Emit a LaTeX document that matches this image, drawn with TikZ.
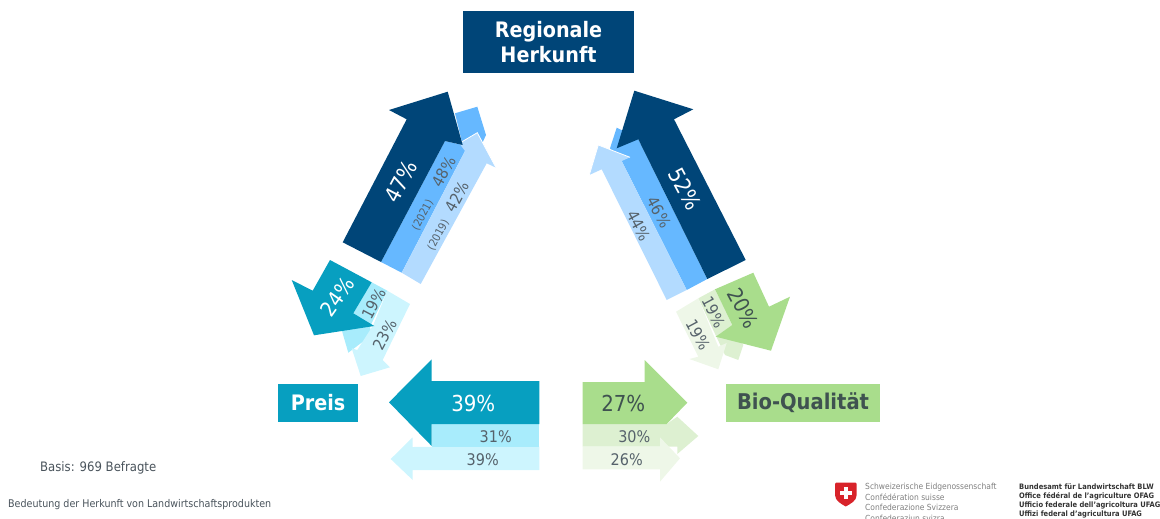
\documentclass[tikz,border=0pt]{standalone}
\usepackage{fontspec}
\setmainfont{DejaVu Sans Condensed}
\definecolor{navy}{HTML}{004578}
\definecolor{navymid}{HTML}{66B8FF}
\definecolor{navylt}{HTML}{B3DBFF}
\definecolor{teal1}{HTML}{079FC0}
\definecolor{tealmid}{HTML}{A8ECFC}
\definecolor{teallt}{HTML}{CDF5FE}
\definecolor{green1}{HTML}{A9DD8C}
\definecolor{greenmid}{HTML}{DDF0D1}
\definecolor{greenlt}{HTML}{EEF7E8}
\definecolor{txtgray}{HTML}{56626B}
\definecolor{txtdark}{HTML}{3F5250}
\definecolor{swiss}{HTML}{D8232A}
\tikzset{
  x=1pt,y=-1pt,
  headedge/.style={draw=white,line width=0.8pt},
  pct/.style={inner sep=0pt,font=\fontsize{#1}{#1}\selectfont,text=txtgray},
  pct/.default=16,
  pctw/.style={pct=#1,text=white},
  pctw/.default=22,
  small/.style={inner sep=0pt,font=\fontsize{11}{11}\selectfont,text=txtgray},
  titlebox/.style={inner sep=0pt,align=center,font=\fontsize{#1}{#1}\selectfont\bfseries},
  foot/.style={inner sep=0pt,anchor=west,text=txtgray!85!black},
  adminline/.style={inner sep=0pt,anchor=west,text=gray,font=\fontsize{8.4}{8.4}\selectfont},
  officeline/.style={inner sep=0pt,anchor=west,text=black!80,font=\fontsize{7.5}{7.5}\selectfont\bfseries},
}
\begin{document}
\begin{tikzpicture}
\useasboundingbox (0,0) rectangle (1160,519);
\clip (0,0) rectangle (1160,519);
% title boxes
\fill[navy] (463,11) rectangle (634,73);
\node[titlebox=21.3,text=white] (reg) at (548.5,42) {Regionale\\[3pt]Herkunft};
\fill[teal1] (278.3,384.3) rectangle (358,421.7);
\node[titlebox=21.3,text=white] (preis) at (318,402.5) {Preis};
\fill[green1] (726,384.3) rectangle (880,421.7);
\node[titlebox=21.7,text=txtdark] (bio) at (803,403) {Bio-Qualität};
% left upper arrows
\fill[navymid] (381,262)--(401.7,272.7)--(465,151)--(480,148)--(486,135)--(477.3,106.7)--(455,113.3)--(462.7,145)--(445,141)--cycle;
\fill[navylt] (401.7,272.7)--(420.7,284)--(486.7,163.3)--(496,167.7)--(477.3,132.7)--(459.3,143.3)--(465,151)--cycle;
\draw[headedge] (459.3,143.3)--(477.3,132.7)--(496,167.7);
\fill[navy] (342.7,242.3)--(381,262)--(445,141)--(462.7,145)--(447.7,91.7)--(389,110)--(406.7,119.3)--cycle;
\node[pctw=22,rotate=62] (a47) at (400.7,181.7) {47\%};
\node[pct=16,rotate=62] (a48) at (444,171.7) {48\%};
\node[small,rotate=62] (a21) at (422.7,215) {(2021)};
\node[pct=16,rotate=62] (a42) at (457.3,196.7) {42\%};
\node[small,rotate=62] (a19) at (438.3,235) {(2019)};
% left lower arrows
\fill[tealmid] (353.3,313.3)--(371.7,282.3)--(387.3,290.7)--(370,326.7)--(371.7,335)--(348.3,352.7)--(341.7,330)--cycle;
\fill[teallt] (387.3,290.7)--(410,304)--(382.7,360)--(390,367.3)--(360.7,376)--(351.7,348.3)--(357.3,350)--(373.3,325)--cycle;
\fill[teal1] (330,260)--(312.7,290.7)--(291.7,280)--(314,335.3)--(374.3,326)--(353.3,313.3)--(371.7,282.3)--cycle;
\node[pctw=21,rotate=55] (b24) at (337.7,296.7) {24\%};
\node[pct=16,rotate=62] (b19) at (374,304) {19\%};
\node[pct=16,rotate=62] (b23) at (385,335) {23\%};
% right upper arrows
\fill[navymid] (707.3,279)--(686.7,290)--(621.7,161)--(610,148.3)--(616.7,127.7)--(625,131.7)--(638.3,139.3)--cycle;
\fill[navylt] (686.7,290)--(666.7,300)--(601.7,169.3)--(589.3,175)--(598.3,145)--(630,157.3)--(621.7,161)--cycle;
\draw[headedge] (589.3,175)--(598.3,145)--(630,157.3);
\fill[navy] (745.7,260)--(707.3,279)--(638.3,139.3)--(616.7,148.3)--(634.3,90.7)--(693.3,109.3)--(674,119.3)--cycle;
\node[pctw=22,rotate=-62] (c52) at (685,189.3) {52\%};
\node[pct=16,rotate=-62] (c46) at (659.3,212.3) {46\%};
\node[pct=16,rotate=-62] (c44) at (639,225.7) {44\%};
% right lower arrows
\fill[greenmid] (715,289.3)--(698.3,298.3)--(725,355)--(738.3,360)--(743.3,345)--(732.3,325)--cycle;
\fill[greenlt] (698.3,298.3)--(676,311.7)--(698.3,356.7)--(689.3,359)--(718.3,369.3)--(726.7,343)--(718.3,346.7)--cycle;
\fill[green1] (753.3,272.7)--(715,289.3)--(732.3,325)--(715.7,336.7)--(771,350.7)--(790,296.7)--(769,306.7)--cycle;
\node[pct=21,rotate=-62,text=txtdark] (d20) at (743.3,308.3) {20\%};
\node[pct=16,rotate=-62] (d19a) at (714,312.3) {19\%};
\node[pct=16,rotate=-62] (d19b) at (698.3,335) {19\%};
% bottom left arrows
\fill[teallt] (539.3,446.7)--(539.3,470)--(412.7,470)--(412.7,480)--(390.7,459)--(412.7,437.3)--(412.7,447)--cycle;
\fill[tealmid] (431.7,424) rectangle (539.3,446.7);
\fill[teal1] (539.3,381)--(431.7,381)--(431.7,359.3)--(389,402.3)--(431.7,446)--(431.7,424)--(539.3,424)--cycle;
\node[pctw=22] (e39) at (473.3,403.3) {39\%};
\node[pct=16] (e31) at (495.7,436.7) {31\%};
\node[pct=16] (e39b) at (482.7,460) {39\%};
% bottom right arrows
\fill[greenmid] (582.7,424)--(666.7,424)--(677.3,416.7)--(698.3,436)--(677.3,454)--(677.3,446.7)--(582.7,446.7)--cycle;
\fill[greenlt] (582.7,446.7)--(582.7,469.3)--(660,469.3)--(660,481.7)--(680,458.3)--(660,437.3)--(660,446.7)--cycle;
\fill[green1] (582.7,382)--(644.7,382)--(644.7,360)--(687.3,402.7)--(666.7,424)--(582.7,424)--cycle;
\node[pct=22,text=txtdark] (f27) at (623.3,403.3) {27\%};
\node[pct=16] (f30) at (634.3,436.7) {30\%};
\node[pct=16] (f26) at (626.7,459.3) {26\%};
% footer
\node[foot,font=\fontsize{13}{13}\selectfont] (basis) at (40,468) {Basis: 969 Befragte};
\node[foot,font=\fontsize{10.6}{10.6}\selectfont] (bed) at (8,504.5) {Bedeutung der Herkunft von Landwirtschaftsprodukten};
% swiss shield
\fill[swiss] (836,482.7)--(855.7,482.7) .. controls (856.5,482.7) and (856.7,483.5) .. (856.7,484)--(856.7,495) .. controls (856.7,501) and (850,504) .. (845.8,506.5) .. controls (841.5,504) and (835,501) .. (835,495)--(835,484) .. controls (835,483.5) and (835.3,482.7) .. (836,482.7)--cycle;
\fill[white] (843.5,486.5) rectangle (848.2,499);
\fill[white] (839.5,490.5) rectangle (852.2,495);
\node[adminline] (l1) at (865,486.7) {Schweizerische Eidgenossenschaft};
\node[adminline] (l2) at (865,496.7) {Confédération suisse};
\node[adminline] (l3) at (865,507.3) {Confederazione Svizzera};
\node[adminline] (l4) at (865,518.3) {Confederaziun svizra};
\node[officeline] (o1) at (1019,486.7) {Bundesamt für Landwirtschaft BLW};
\node[officeline] (o2) at (1019,496) {Office fédéral de l'agriculture OFAG};
\node[officeline] (o3) at (1019,505) {Ufficio federale dell'agricoltura UFAG};
\node[officeline] (o4) at (1019,514.3) {Uffizi federal d'agricultura UFAG};
\end{tikzpicture}
\end{document}
